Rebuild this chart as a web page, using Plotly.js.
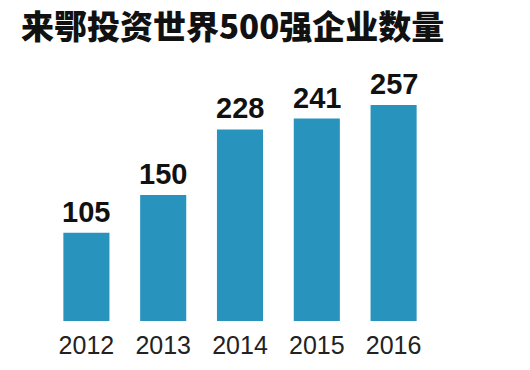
<!DOCTYPE html>
<html>
<head>
<meta charset="utf-8">
<script src="https://cdn.plot.ly/plotly-3.0.1.min.js"></script>
<style>html,body{margin:0;padding:0;background:#fff;}#chart{width:530px;height:370px;}</style>
</head>
<body>
<div id="chart"></div>
<script>
const years = ['2012', '2013', '2014', '2015', '2016'];
const counts = [105, 150, 228, 241, 257];
const titleText = '来鄂投资世界500强企业数量';

const trace = {
  type: 'bar',
  x: years,
  y: counts,
  marker: {color: '#2893bd'},
  hoverinfo: 'none'
};

// category axis: annotation x given as category index
const annotations = years.map((yr, i) => ({
  x: i, y: counts[i], xref: 'x', yref: 'y',
  text: String(counts[i]),
  showarrow: false, yanchor: 'bottom', yshift: 3,
  font: {family: '"Liberation Sans", Arial, sans-serif', size: 29, weight: 700, color: '#111'}
}));

annotations.push({
  xref: 'paper', yref: 'paper', x: 0, y: 1, xshift: -29, yshift: 44,
  xanchor: 'left', yanchor: 'middle',
  text: titleText, showarrow: false,
  font: {family: '"Noto Sans CJK SC", sans-serif', size: 33, weight: 900, color: '#111'}
});

const layout = {
  width: 530, height: 370,
  margin: {l: 48, r: 98, t: 69, b: 49},
  paper_bgcolor: '#fff', plot_bgcolor: '#fff',
  bargap: 0.4,
  showlegend: false,
  xaxis: {
    type: 'category', range: [-0.5, 4.5],
    showgrid: false, zeroline: false, showline: false, ticks: '',
    ticklabelstandoff: 7,
    tickfont: {family: '"Liberation Sans", Arial, sans-serif', size: 25, color: '#222'}
  },
  yaxis: {
    range: [0, 300], showticklabels: false, showgrid: false, zeroline: false, showline: false, ticks: ''
  },
  annotations: annotations
};

Plotly.newPlot('chart', [trace], layout, {displayModeBar: false, staticPlot: true});
</script>
</body>
</html>
